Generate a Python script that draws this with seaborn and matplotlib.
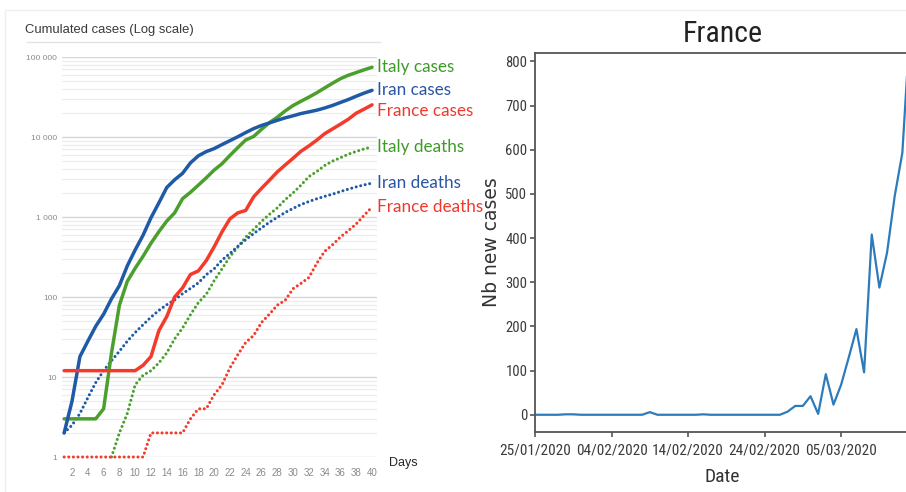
import numpy as np
import pandas as pd
import matplotlib
matplotlib.use("Agg")
import matplotlib.pyplot as plt
from matplotlib import font_manager as fm
from matplotlib.ticker import FixedLocator, FuncFormatter, LogLocator, NullFormatter
from matplotlib.patches import Rectangle
from matplotlib.lines import Line2D
import seaborn as sns

# ---------------- data: cumulated counts per day since outbreak start ----------------
days = list(range(1, 41))
italy_cases = [3, 3, 3, 3, 3, 4, 20, 79, 157, 229, 323, 470, 655, 889, 1128, 1694, 2036,
               2502, 3089, 3858, 4636, 5883, 7375, 9172, 10149, 12462, 15113, 17660, 21157,
               24747, 27980, 31506, 35713, 41035, 47021, 53578, 59138, 63927, 69176, 74386]
iran_cases = [2, 5, 18, 28, 43, 61, 95, 139, 245, 388, 593, 978, 1501, 2336, 2922, 3513,
              4747, 5823, 6566, 7161, 8042, 9000, 10075, 11364, 12729, 13938, 14991, 16169,
              17361, 18407, 19644, 20610, 21638, 23049, 24811, 27017, 29406, 32332, 35408, 38309]
france_cases = [12, 12, 12, 12, 12, 12, 12, 12, 12, 12, 14, 18, 38, 57, 100, 130, 191, 212,
                285, 423, 653, 949, 1126, 1209, 1784, 2281, 2876, 3661, 4469, 5423, 6633,
                7730, 9134, 10995, 12612, 14459, 16689, 19856, 22302, 25233]
italy_death_days = list(range(7, 41))
italy_deaths = [1, 2, 3.5, 8, 10.5, 12, 15, 20, 30, 41, 60, 85, 108, 160, 225, 320, 420,
                560, 700, 880, 1080, 1300, 1650, 2000, 2500, 3200, 3700, 4400, 5000, 5500,
                6100, 6600, 7100, 7503]
iran_deaths = [2, 2.5, 3.5, 5.5, 8.5, 12, 16, 21, 28, 36, 45, 56, 68, 80, 92, 110, 128, 150,
               190, 225, 290, 350, 430, 520, 620, 730, 860, 990, 1140, 1280, 1430, 1560,
               1690, 1810, 1930, 2080, 2230, 2380, 2520, 2650]
france_deaths = [1, 1, 1, 1, 1, 1, 1, 1, 1, 1, 1, 2, 2, 2, 2, 2, 3, 4, 4, 6, 8, 13, 19, 27,
                 33, 48, 61, 79, 91, 127, 148, 175, 264, 372, 450, 562, 674, 820, 1050, 1331]
day_ticks = list(range(2, 41, 2))
log_ticks = [1, 10, 100, 1000, 10000, 100000]

# ---------------- data: daily new cases in France ----------------
new_dates = pd.date_range("2020-01-25", "2020-03-14", freq="D")
france_new = [0, 0, 0, 0, 1, 1, 0, 0, 0, 0,
              0, 0, 0, 0, 0, 6, 0, 0, 0, 0,
              0, 0, 1, 0, 0, 0, 0, 0, 0, 0,
              0, 0, 0, 7, 20, 20, 42, 2, 92, 23,
              68, 130, 194, 96, 408, 288, 367, 495, 593, 880]
date_ticks = pd.to_datetime(["2020-01-25", "2020-02-04", "2020-02-14",
                             "2020-02-24", "2020-03-05"])
new_yticks = list(range(0, 801, 100))
new_ylim = (-39, 819)

colors = {"Italy": "#4ba02d", "Iran": "#1f5aa6", "France": "#f43b2b"}
text_colors = {"Italy": "#3f9a2a", "Iran": "#2955a3", "France": "#f0392c"}

sns.set_style("ticks")
plt.rcParams["lines.solid_capstyle"] = "round"
plt.rcParams["lines.dash_capstyle"] = "round"

installed = {f.name for f in fm.fontManager.ttflist}
narrow = next((n for n in ["Liberation Sans Narrow", "Roboto Condensed", "Open Sans Condensed"]
               if n in installed), "Liberation Sans")

W, H = 906, 492
fig = plt.figure(figsize=(W / 100, H / 100), dpi=100)


def fx(x):
    return x / W


def fy(y):
    return 1 - y / H


# ---------------- left: cumulated cases, log scale ----------------
ax1 = fig.add_axes([fx(62), fy(457), fx(377) - fx(62), fy(57) - fy(457)])

cases_df = pd.concat([
    pd.DataFrame({"day": days, "value": italy_cases, "country": "Italy"}),
    pd.DataFrame({"day": days, "value": iran_cases, "country": "Iran"}),
    pd.DataFrame({"day": days, "value": france_cases, "country": "France"}),
])
deaths_df = pd.concat([
    pd.DataFrame({"day": italy_death_days, "value": italy_deaths, "country": "Italy"}),
    pd.DataFrame({"day": days, "value": iran_deaths, "country": "Iran"}),
    pd.DataFrame({"day": days, "value": france_deaths, "country": "France"}),
])

sns.lineplot(data=deaths_df, x="day", y="value", hue="country", palette=colors,
             estimator=None, legend=False, ax=ax1, linewidth=2.2,
             linestyle=(0, (0.01, 1.5)), dash_capstyle="round")
sns.lineplot(data=cases_df, x="day", y="value", hue="country", palette=colors,
             estimator=None, legend=False, ax=ax1, linewidth=2.5)
for ln in ax1.lines:
    ln.set_clip_on(False)

ax1.set_yscale("log")
ax1.set_ylim(1, 100000)
ax1.set_xlim(0.73, 40.63)
ax1.yaxis.set_major_locator(FixedLocator(log_ticks))
ax1.yaxis.set_major_formatter(FuncFormatter(lambda v, p: f"{int(round(v)):,}".replace(",", " ")))
ax1.yaxis.set_minor_locator(LogLocator(base=10, subs=range(2, 10), numticks=20))
ax1.yaxis.set_minor_formatter(NullFormatter())
ax1.xaxis.set_major_locator(FixedLocator(day_ticks))
ax1.grid(axis="y", which="major", color="#d6d6d6", linewidth=1.0)
ax1.grid(axis="y", which="minor", color="#ededed", linewidth=0.9)
ax1.set_axisbelow(True)
for s in ax1.spines.values():
    s.set_visible(False)
ax1.tick_params(axis="both", which="both", length=0)
ax1.tick_params(axis="y", labelsize=6, labelcolor="#8a8a8a", pad=3.5)
ax1.tick_params(axis="x", labelsize=7, labelcolor="#8a8a8a", pad=8)
for lab in ax1.get_xticklabels() + ax1.get_yticklabels():
    lab.set_fontfamily("Liberation Sans")
ax1.set_xlabel("")
ax1.set_ylabel("")

# labels at the end of each curve
ends = [
    ("Italy cases", "Italy", italy_cases[-1], 0),
    ("Iran cases", "Iran", iran_cases[-1], 0),
    ("France cases", "France", france_cases[-1], -4.5),
    ("Italy deaths", "Italy", italy_deaths[-1], 0),
    ("Iran deaths", "Iran", iran_deaths[-1], 0),
    ("France deaths", "France", france_deaths[-1], 0),
]
for text, country, val, dy in ends:
    ax1.annotate(text, xy=(days[-1], val), xytext=(3.8, dy), textcoords="offset points",
                 va="center", ha="left", fontsize=12.3, family="Lato",
                 color=text_colors[country], annotation_clip=False)

fig.text(fx(25), fy(30), "Cumulated cases (Log scale)", ha="left", va="center",
         fontsize=9.4, family="Liberation Sans", color="#3a3a3a")
fig.add_artist(Line2D([fx(27), fx(380)], [fy(42), fy(42)], color="#e2e2e2", lw=1.0,
                      transform=fig.transFigure))
fig.text(fx(389), fy(463), "Days", ha="left", va="center", fontsize=9,
         family="Liberation Sans", color="#262626")

# light frame around the figure
fig.add_artist(Rectangle((fx(5), -0.02), 1.0, fy(10) + 0.02, fill=False,
                         edgecolor="#eeeeee", lw=1.0, transform=fig.transFigure))

# ---------------- right: daily new cases in France ----------------
ax2 = fig.add_axes([fx(535), fy(432), fx(910) - fx(535), fy(53) - fy(432)])
sns.lineplot(x=new_dates, y=france_new, ax=ax2, color="#2d7bbb", linewidth=1.6)
ax2.set_xlim(new_dates[0], new_dates[-1])
ax2.set_ylim(*new_ylim)
ax2.set_xticks(date_ticks)
ax2.set_xticklabels([d.strftime("%d/%m/%Y") for d in date_ticks])
ax2.set_yticks(new_yticks)
for s in ax2.spines.values():
    s.set_color("#555555")
    s.set_linewidth(1.3)
ax2.tick_params(axis="both", direction="out", length=3.5, width=1.2, color="#555555",
                labelcolor="#3a3a3a")
ax2.tick_params(axis="y", labelsize=10.5, pad=2)
ax2.tick_params(axis="x", labelsize=11, pad=5)
for lab in ax2.get_xticklabels() + ax2.get_yticklabels():
    lab.set_fontfamily(narrow)
ax2.set_title("France", fontsize=21.5, family=narrow, color="#222222", pad=8)
ax2.set_xlabel("Date", fontsize=14, family=narrow, color="#333333")
ax2.set_ylabel("Nb new cases", fontsize=13.5, family="DejaVu Sans", color="#333333")
ax2.xaxis.set_label_coords(0.5, -0.095)
ax2.yaxis.set_label_coords(-0.09, 0.50)

fig.savefig("out.png", dpi=100)
